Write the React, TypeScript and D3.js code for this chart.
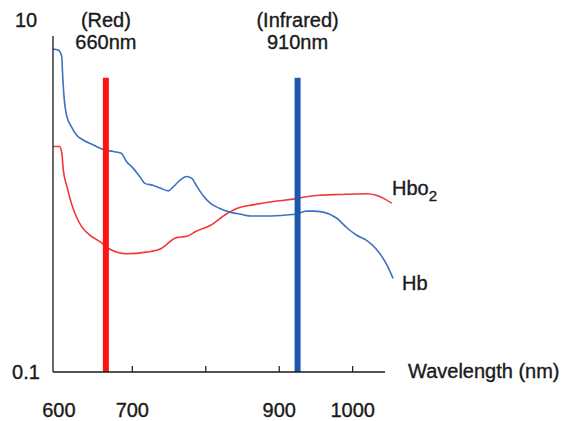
import React, { useRef, useEffect } from "react";
import * as d3 from "d3";

// wavelength (nm) and absorption (log scale)
const hbWavelength = [592, 599, 604, 605, 607, 611, 617, 624, 633, 647, 660, 674, 685, 692, 701, 710, 717, 728, 738, 749, 756, 765, 774, 781, 787, 796, 806, 819, 833, 846, 860, 883, 910, 923, 937, 946, 960, 978, 992, 1005, 1019, 1032, 1046, 1055];
const hbValue = [6.84, 6.75, 6.19, 4.98, 3.67, 2.82, 2.48, 2.22, 2.08, 1.95, 1.84, 1.79, 1.75, 1.57, 1.44, 1.29, 1.18, 1.15, 1.11, 1.07, 1.13, 1.23, 1.29, 1.26, 1.15, 1.01, 0.91, 0.85, 0.81, 0.79, 0.77, 0.77, 0.78, 0.79, 0.82, 0.82, 0.81, 0.75, 0.66, 0.6, 0.56, 0.5, 0.41, 0.34];

const hbo2Wavelength = [592, 601, 604, 606, 611, 617, 624, 631, 642, 656, 669, 692, 719, 738, 760, 774, 787, 806, 828, 846, 864, 892, 919, 937, 955, 982, 1019, 1032, 1044, 1053];
const hbo2Value = [1.91, 1.91, 1.75, 1.41, 1.13, 0.91, 0.76, 0.67, 0.6, 0.55, 0.5, 0.47, 0.48, 0.5, 0.58, 0.59, 0.63, 0.68, 0.79, 0.86, 0.89, 0.93, 0.96, 0.99, 1.01, 1.02, 1.03, 1.01, 0.96, 0.91];

const markerPos = [664, 925];
const markerTop = 4.7;
const markerName = ["(Red)", "(Infrared)"];
const markerLabel = ["660nm", "910nm"];
const markerColor = ["#ff1414", "#1f58ab"];

const xTicks = [700, 800, 900, 1000];
const xTickLabels = [600, 700, 900, 1000];
const yTickLabels = [10, 0.1];

const App = () => {
  const ref = useRef<SVGSVGElement>(null);

  useEffect(() => {
    const svg = d3.select(ref.current);
    svg.selectAll("*").remove();

    const font = "'Liberation Sans', Arial, Helvetica, sans-serif";
    const ink = "#1a1a1a";

    const x = d3.scaleLinear().domain([592, 1044]).range([53, 385]);
    const y = d3.scaleLog().domain([0.1, 10]).range([372, 20]);

    // curves
    const line = d3
      .line<[number, number]>()
      .x((d) => x(d[0]))
      .y((d) => y(d[1]))
      .curve(d3.curveMonotoneX);

    const hb = hbWavelength.map((w, i) => [w, hbValue[i]] as [number, number]);
    const hbo2 = hbo2Wavelength.map((w, i) => [w, hbo2Value[i]] as [number, number]);

    svg
      .append("path")
      .datum(hbo2)
      .attr("fill", "none")
      .attr("stroke", "#f2373a")
      .attr("stroke-width", 1.6)
      .attr("d", line);

    svg
      .append("path")
      .datum(hb)
      .attr("fill", "none")
      .attr("stroke", "#3d72c0")
      .attr("stroke-width", 1.6)
      .attr("d", line);

    // wavelength markers
    markerPos.forEach((w, i) => {
      svg
        .append("line")
        .attr("x1", x(w))
        .attr("x2", x(w))
        .attr("y1", y(markerTop))
        .attr("y2", y(0.1))
        .attr("stroke", markerColor[i])
        .attr("stroke-width", 6);
      svg
        .append("text")
        .attr("x", x(w))
        .attr("y", 27)
        .attr("text-anchor", "middle")
        .text(markerName[i]);
      svg
        .append("text")
        .attr("x", x(w))
        .attr("y", 49)
        .attr("text-anchor", "middle")
        .text(markerLabel[i]);
    });

    // axes
    svg
      .append("line")
      .attr("x1", x(592))
      .attr("x2", x(592))
      .attr("y1", 36)
      .attr("y2", y(0.1))
      .attr("stroke", ink)
      .attr("stroke-width", 1.3);
    svg
      .append("line")
      .attr("x1", x(592))
      .attr("x2", x(1044))
      .attr("y1", y(0.1))
      .attr("y2", y(0.1))
      .attr("stroke", ink)
      .attr("stroke-width", 1.3);

    svg
      .selectAll(".xtick")
      .data(xTicks)
      .join("line")
      .attr("x1", (d) => x(d))
      .attr("x2", (d) => x(d))
      .attr("y1", y(0.1))
      .attr("y2", y(0.1) - 6)
      .attr("stroke", ink)
      .attr("stroke-width", 1.2);

    svg
      .selectAll(".xlab")
      .data(xTickLabels)
      .join("text")
      .attr("x", (d) => x(d))
      .attr("y", 417)
      .attr("text-anchor", "middle")
      .text((d) => d);

    svg
      .selectAll(".ylab")
      .data(yTickLabels)
      .join("text")
      .attr("x", 26)
      .attr("y", (d) => y(d) + 7)
      .attr("text-anchor", "middle")
      .text((d) => d);

    svg.append("text").attr("x", 408).attr("y", 378).text("Wavelength (nm)");

    // series labels
    const hbo2Label = svg.append("text").attr("x", 392).attr("y", 195);
    hbo2Label.append("tspan").text("Hbo");
    hbo2Label
      .append("tspan")
      .attr("dy", 6)
      .attr("font-size", 15)
      .text("2");

    svg.append("text").attr("x", 402).attr("y", 290).text("Hb");

    svg
      .selectAll("text")
      .attr("font-family", font)
      .attr("fill", ink)
      .attr("stroke", ink)
      .attr("stroke-width", 0.35)
      .attr("font-size", 20);
  }, []);

  return (
    <svg
      ref={ref}
      width={566}
      height={421}
      style={{ position: "absolute", left: 0, top: 0, background: "#fff" }}
    ></svg>
  );
};

export default App;
